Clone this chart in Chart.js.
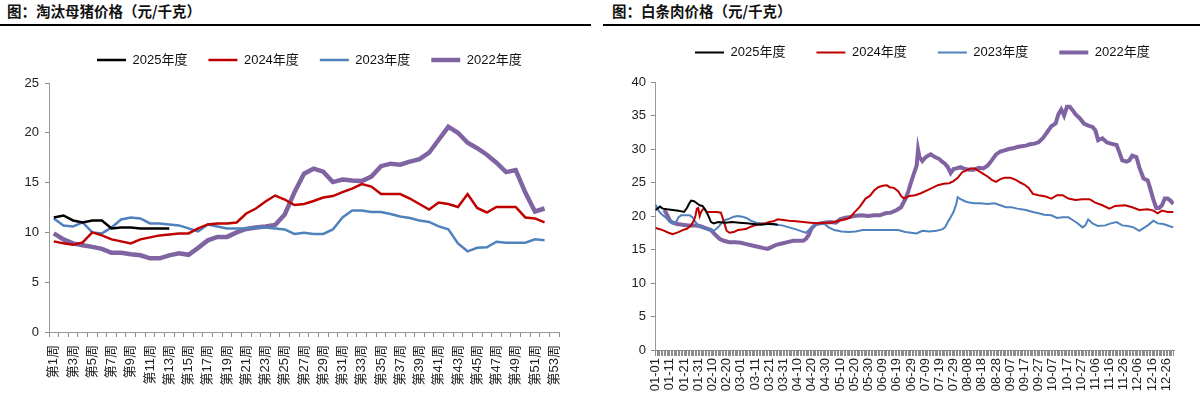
<!DOCTYPE html>
<html><head><meta charset="utf-8">
<script src="https://cdn.jsdelivr.net/npm/chart.js@4.4.1/dist/chart.umd.min.js"></script>
<style>
html,body{margin:0;padding:0;background:#fff;width:1200px;height:399px;overflow:hidden;position:relative;}
.title{position:absolute;top:1px;font-family:'Noto Sans CJK SC',sans-serif;font-weight:700;font-size:14.5px;line-height:20px;color:#111;white-space:nowrap;}
.rule{position:absolute;top:24px;height:2px;background:#000;}
.box{position:absolute;top:28px;height:371px;width:600px;}
</style></head><body>
<div class="title" style="left:7px">图：淘汰母猪价格（元/千克）</div>
<div class="rule" style="left:0;width:591px"></div>
<div class="title" style="left:612px">图：白条肉价格（元/千克）</div>
<div class="rule" style="left:603px;width:597px"></div>
<div class="box" style="left:0"><canvas id="c1" width="600" height="371"></canvas></div>
<div class="box" style="left:600px"><canvas id="c2" width="600" height="371"></canvas></div>
<script>
// ---------- Left chart: 淘汰母猪价格 (weekly) ----------
const weekLabels = ['第1周','第2周','第3周','第4周','第5周','第6周','第7周','第8周','第9周','第10周',
 '第11周','第12周','第13周','第14周','第15周','第16周','第17周','第18周','第19周','第20周',
 '第21周','第22周','第23周','第24周','第25周','第26周','第27周','第28周','第29周','第30周',
 '第31周','第32周','第33周','第34周','第35周','第36周','第37周','第38周','第39周','第40周',
 '第41周','第42周','第43周','第44周','第45周','第46周','第47周','第48周','第49周','第50周',
 '第51周','第52周','第53周'];
const sow2025 = [11.5,11.7,11.2,11.0,11.2,11.2,10.4,10.5,10.5,10.4,10.4,10.4,10.4];
const sow2024 = [9.1,8.9,8.75,9.0,10.0,9.7,9.3,9.1,8.9,9.3,9.5,9.7,9.8,9.9,9.9,10.4,10.8,10.9,10.9,11.0,
 11.9,12.4,13.1,13.7,13.3,12.75,12.85,13.15,13.5,13.65,14.05,14.4,14.85,14.6,13.85,13.85,13.85,13.4,12.85,12.3,
 13.0,12.85,12.55,13.85,12.45,12.0,12.55,12.55,12.55,11.5,11.4,11.0,null];
const sow2023 = [11.4,10.7,10.6,11.0,10.0,9.9,10.5,11.3,11.5,11.4,10.9,10.9,10.8,10.7,10.4,10.1,10.8,10.6,10.4,10.4,
 10.4,10.5,10.5,10.4,10.3,9.85,9.97,9.84,9.84,10.3,11.5,12.2,12.2,12.05,12.05,11.85,11.6,11.45,11.2,11.05,
 10.6,10.3,8.9,8.1,8.45,8.5,9.07,8.97,8.97,8.97,9.3,9.2,null];
const sow2022 = [9.9,9.3,8.9,8.7,8.55,8.35,7.95,7.95,7.8,7.7,7.4,7.4,7.7,7.9,7.75,8.45,9.2,9.55,9.55,10.0,
 10.35,10.5,10.6,10.75,11.8,14.0,15.9,16.4,16.1,15.05,15.3,15.2,15.15,15.6,16.65,16.9,16.8,17.1,17.35,18.0,
 19.3,20.6,20.0,19.0,18.45,17.8,17.0,16.05,16.25,14.0,12.1,12.4,null];
const sowTicks = [0,5,10,15,20,25];

// ---------- Right chart: 白条肉价格 (daily, day of year) ----------
const dateLabels = ['01-01','01-11','01-21','01-31','02-10','02-20','03-01','03-11','03-21','03-31',
 '04-10','04-20','04-30','05-10','05-20','05-30','06-09','06-19','06-29','07-09','07-19','07-29',
 '08-08','08-18','08-28','09-07','09-17','09-27','10-07','10-17','10-27','11-06','11-16','11-26',
 '12-06','12-16','12-26'];
const porkTicks = [0,5,10,15,20,25,30,35,40];

const day2025 = [1,4,6,9,13,17,21,23,25,26,28,30,32,34,36,38,40,42,45,50,55,60,65,70,75,80,84,87];
const pork2025 = [20.9,21.4,21.1,21.0,20.9,20.8,20.6,21.2,22.0,22.3,22.2,21.9,21.6,21.5,20.9,20.1,19.1,18.9,19.1,19.0,19.1,19.0,18.9,18.8,18.7,18.8,18.8,18.7];

const day2024 = [1,6,10,13,17,20,23,26,28,29,30,31,32,33,35,37,40,44,47,49,51,53,56,59,62,65,68,71,75,78,81,84,87,91,95,100,105,110,116,121,125,130,135,138,141,145,149,152,155,158,161,164,166,169,172,174,176,178,180,184,188,192,196,200,204,208,211,214,217,220,223,226,229,232,235,238,241,244,247,251,255,258,261,264,267,271,276,280,284,288,292,297,302,307,311,316,321,325,332,337,342,348,352,355,358,362,366];
const pork2024 = [18.2,17.9,17.5,17.3,17.6,17.9,18.1,18.6,19.4,20.0,21.1,21.2,20.0,20.6,21.2,20.6,20.6,20.6,20.5,19.2,17.8,17.5,17.6,17.9,18.0,18.1,18.4,18.6,18.8,18.9,19.1,19.2,19.5,19.4,19.3,19.2,19.1,19.0,18.9,19.0,19.0,19.3,19.5,19.8,20.5,21.4,22.6,23.0,23.8,24.3,24.5,24.6,24.3,24.2,23.7,23.0,22.6,22.8,23.0,23.1,23.4,23.8,24.2,24.6,24.8,24.9,25.2,25.7,26.5,26.8,27.1,27.1,26.7,26.3,25.9,25.4,25.1,25.5,25.7,25.7,25.4,25.0,24.7,24.2,23.3,23.1,22.9,22.6,23.1,23.1,22.6,22.4,22.5,22.5,22.0,21.6,21.1,21.5,21.6,21.3,20.9,21.0,20.8,20.4,20.8,20.6,20.6];

const day2023 = [1,3,5,8,11,14,16,17,19,22,25,27,29,32,36,40,42,45,48,50,53,56,59,62,65,68,72,76,81,86,90,95,100,104,107,110,113,117,120,123,127,132,137,142,147,152,157,162,167,172,177,181,185,189,194,199,203,205,207,209,211,213,214,216,219,222,226,230,235,240,244,248,252,256,262,267,271,275,280,284,288,292,295,298,302,304,306,309,313,318,322,326,330,334,338,342,345,348,352,355,359,363,366];
const pork2023 = [21.7,20.8,20.3,19.8,19.1,18.9,19.3,19.8,20.1,20.1,20.1,19.8,19.1,18.4,18.1,17.9,17.8,18.3,19.1,19.4,19.6,19.9,20.0,19.9,19.7,19.3,19.0,18.9,18.8,18.7,18.6,18.3,18.0,17.7,17.5,18.1,18.7,18.9,18.8,18.3,17.9,17.7,17.6,17.7,17.9,17.9,17.9,17.9,17.9,17.9,17.6,17.5,17.4,17.8,17.7,17.8,18.0,18.3,19.1,19.8,20.6,21.8,22.8,22.5,22.2,22.0,21.9,21.9,21.8,21.9,21.6,21.3,21.3,21.1,20.9,20.6,20.4,20.2,20.1,19.7,19.8,19.8,19.4,19.0,18.3,18.6,19.5,18.9,18.5,18.6,18.9,19.1,18.6,18.5,18.3,17.8,18.2,18.6,19.3,18.9,18.8,18.5,18.3];

const day2022 = [7,9,11,13,16,20,24,28,32,36,40,43,46,49,53,57,61,65,69,73,77,80,83,86,90,94,98,102,105,107,109,111,114,117,120,124,128,131,134,137,141,146,151,155,159,163,167,171,174,177,179,181,183,185,186,187,189,191,193,195,197,199,201,203,205,207,209,211,213,216,219,222,225,229,232,235,238,241,244,247,250,253,256,259,262,265,268,271,274,277,280,283,285,287,289,291,293,295,297,300,303,306,309,311,313,316,319,322,326,328,330,333,335,337,340,342,345,348,350,352,354,356,358,360,362,364,366];
const pork2022 = [20.9,20.2,19.3,19.0,18.8,18.7,18.6,18.6,18.5,18.2,17.9,17.2,16.6,16.3,16.1,16.1,16.0,15.8,15.6,15.4,15.2,15.1,15.4,15.7,15.9,16.1,16.3,16.3,16.3,16.6,17.2,18.2,18.8,18.9,19.0,19.1,19.0,19.5,19.7,19.8,20.0,20.1,20.0,20.1,20.1,20.4,20.5,20.9,21.3,22.5,23.6,25.0,26.3,27.5,29.9,28.8,28.2,28.7,29.0,29.2,28.9,28.7,28.5,28.1,27.8,27.3,26.4,27.0,27.1,27.3,27.0,26.9,26.9,27.2,27.1,27.5,28.3,29.2,29.6,29.8,30.0,30.1,30.3,30.4,30.5,30.7,30.8,31.0,31.6,32.5,33.4,33.8,35.2,35.9,35.0,36.3,36.3,35.8,35.2,34.6,33.8,33.5,33.3,32.8,31.3,31.6,31.0,30.8,30.6,29.5,28.3,28.1,28.3,29.0,28.8,27.3,25.6,25.3,23.9,22.4,21.2,21.2,21.6,22.6,22.6,22.3,21.8];

// ---------- shared styling ----------
const FONT = "'Liberation Sans', 'Noto Sans CJK SC', sans-serif";
const AXIS = '#9a9a9a';
const TICK = '#8a8a8a';
const TXT = '#222';
const C25 = '#000000', C24 = '#C00000', C23 = '#4F81BD', C22 = '#8064A2';

function pairs(xs, ys){ return xs.map((x,i)=>({x:x, y:ys[i]})); }

function legendPlacer(cfg){
  return { id:'legendPlacer', beforeInit(chart){
    const leg = chart.legend;
    const fit = leg.fit;
    leg.fit = function(){ fit.call(this); this.height = cfg.areaTop; };
    const draw = leg.draw;
    leg.draw = function(){
      const c = this.ctx, p = this.options.labels.padding;
      c.save();
      c.translate(cfg.x - (this.left + p), cfg.y - (this.top + p + cfg.fs/2));
      draw.call(this);
      c.restore();
    };
  }};
}

function ds(label, data, color, width){
  return {label, data, borderColor: color, backgroundColor: color, borderWidth: width,
    pointRadius: 0, pointHoverRadius: 0, tension: 0, spanGaps: false, fill: false};
}

// Left chart
new Chart(document.getElementById('c1'), {
  type: 'line',
  data: { labels: weekLabels, datasets: [
      ds('2025年度', sow2025, C25, 2.5), ds('2024年度', sow2024, C24, 2.5),
      ds('2023年度', sow2023, C23, 2.5), ds('2022年度', sow2022, C22, 4.5) ] },
  options: {
    responsive: false, animation: false, devicePixelRatio: 1,
    layout: { padding: { left: 0, right: 41, top: 0, bottom: 0 } },
    plugins: {
      tooltip: { enabled: false },
      legend: { position: 'top', align: 'start',
        labels: { usePointStyle: true, pointStyle: 'line', pointStyleWidth: 29, boxHeight: 13,
          padding: 21, color: '#111', font: { family: FONT, size: 13 } } }
    },
    scales: {
      x: { type: 'category', offset: true,
        afterFit: s => { s.height = 67; },
        grid: { display: true, offset: true, drawOnChartArea: false, drawTicks: true, tickLength: 5, color: TICK },
        border: { display: true, color: AXIS, width: 1 },
        ticks: { autoSkip: false, maxTicksLimit: 1000, minRotation: 90, maxRotation: 90, padding: 8, color: TXT,
          font: { family: FONT, size: 13 },
          callback: function(v, i){ return i % 2 === 0 ? weekLabels[i] : ''; } } },
      y: { min: 0, max: 25,
        afterFit: s => { s.width = 49; },
        afterBuildTicks: s => { s.ticks = sowTicks.map(v => ({value: v})); },
        grid: { drawOnChartArea: false, drawTicks: true, tickLength: 4, color: TICK },
        border: { display: true, color: AXIS, width: 1 },
        ticks: { padding: 6, color: TXT, font: { family: FONT, size: 13 } } }
    }
  },
  plugins: [legendPlacer({ x: 97, y: 32, fs: 13, areaTop: 55 })]
});

// Right chart
const labelByDay = {};
dateLabels.forEach((t, i) => { labelByDay[1 + 10 * i] = t; });
const allDays = [];
for (let d = 1; d <= 366; d++) allDays.push(d);

new Chart(document.getElementById('c2'), {
  type: 'line',
  data: { datasets: [
      ds('2025年度', pairs(day2025, pork2025), C25, 2), ds('2024年度', pairs(day2024, pork2024), C24, 2),
      ds('2023年度', pairs(day2023, pork2023), C23, 2), ds('2022年度', pairs(day2022, pork2022), C22, 4) ] },
  options: {
    responsive: false, animation: false, devicePixelRatio: 1,
    layout: { padding: { left: 0, right: 26, top: 0, bottom: 0 } },
    plugins: {
      tooltip: { enabled: false },
      legend: { position: 'top', align: 'start',
        labels: { usePointStyle: true, pointStyle: 'line', pointStyleWidth: 29, boxHeight: 13,
          padding: 31, color: '#111', font: { family: FONT, size: 13 } } }
    },
    scales: {
      x: { type: 'linear', min: 0.5, max: 366.5,
        afterFit: s => { s.height = 49; },
        afterBuildTicks: s => { s.ticks = allDays.map(v => ({value: v})); },
        grid: { display: true, drawOnChartArea: false, drawTicks: true, tickLength: 6, color: '#8c8c8c', lineWidth: 1 },
        border: { display: true, color: '#8c8c8c', width: 1 },
        ticks: { autoSkip: false, maxTicksLimit: 1000, minRotation: 90, maxRotation: 90, padding: 2, color: TXT,
          font: { family: FONT, size: 13 },
          callback: function(v){ return labelByDay[v] || ''; } } },
      y: { min: 0, max: 40,
        afterFit: s => { s.width = 55; },
        afterBuildTicks: s => { s.ticks = porkTicks.map(v => ({value: v})); },
        grid: { drawOnChartArea: false, drawTicks: true, tickLength: 4, color: TICK },
        border: { display: true, color: AXIS, width: 1 },
        ticks: { padding: 5, color: TXT, font: { family: FONT, size: 13 } } }
    }
  },
  plugins: [legendPlacer({ x: 95, y: 24.5, fs: 13, areaTop: 54 })]
});
</script>
</body></html>
